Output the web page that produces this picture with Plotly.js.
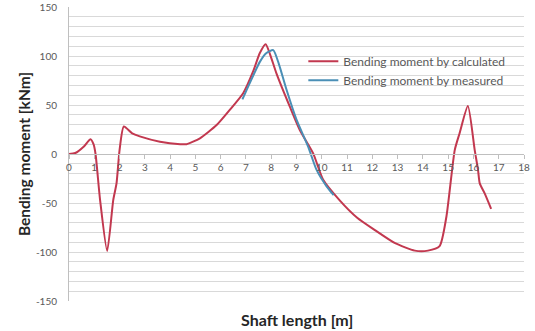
<!DOCTYPE html>
<html>
<head>
<meta charset="utf-8">
<script src="https://cdn.plot.ly/plotly-3.0.1.min.js"></script>
<style>
  html, body { margin: 0; padding: 0; background: #ffffff; }
  #chart { width: 535px; height: 331px; }
</style>
</head>
<body>
<div id="chart"></div>
<script>
// Bending moment along the shaft: calculated vs. measured
const calcLength = [0, 0.25, 0.6, 0.85, 0.97, 1.05, 1.23, 1.51, 1.75, 1.88, 2.0, 2.17, 2.5, 2.8, 3.6, 4.4, 4.65, 5.18, 5.84, 6.36, 6.89, 7.28, 7.55, 7.78, 7.95, 8.21, 8.74, 9.13, 9.66, 10.05, 10.7, 11.4, 12.1, 12.9, 13.68, 14.2, 14.66, 14.93, 15.26, 15.45, 15.78, 16.05, 16.18, 16.25, 16.44, 16.7];
const calcMoment = [0, 1, 8, 15, 10, 0, -47, -99, -47, -30, 4, 28, 21, 18, 12.5, 10, 10, 16, 29.5, 45, 62, 84, 103, 112, 102, 82, 48, 24.5, 0.7, -26, -47, -65, -77.6, -91, -98.6, -98.6, -94, -64, 4, 21, 49, 4, -16, -30, -40, -56];

const measLength = [6.86, 7.02, 7.55, 7.81, 8.08, 8.3, 8.6, 9.0, 9.46, 9.79, 10.19, 10.47];
const measMoment = [55.8, 65, 94, 103, 106, 92, 66, 35, 7.5, -16, -33, -42];

const seriesNames = ['Bending moment by calculated', 'Bending moment by measured'];
const xTicks = [0, 1, 2, 3, 4, 5, 6, 7, 8, 9, 10, 11, 12, 13, 14, 15, 16, 17, 18];
const yTicks = [-150, -100, -50, 0, 50, 100, 150];

const textFont = 'Lato, "Open Sans", "DejaVu Sans", sans-serif';

const traces = [
  {
    x: calcLength, y: calcMoment, name: seriesNames[0],
    mode: 'lines', type: 'scatter',
    line: { color: '#c2384f', width: 2, shape: 'spline', smoothing: 0.6 }
  },
  {
    x: measLength, y: measMoment, name: seriesNames[1],
    mode: 'lines', type: 'scatter',
    line: { color: '#4a8fb6', width: 2, shape: 'spline', smoothing: 0.6 }
  }
];

const layout = {
  width: 535, height: 331,
  margin: { l: 69, r: 11, t: 7, b: 30 },
  paper_bgcolor: '#ffffff', plot_bgcolor: '#ffffff',
  showlegend: true,
  legend: {
    x: 0.515, y: 0.865, xanchor: 'left', yanchor: 'top',
    bgcolor: 'rgba(0,0,0,0)', borderwidth: 0,
    itemwidth: 30, tracegroupgap: 0,
    font: { family: textFont, size: 12, color: '#595959' }
  },
  xaxis: {
    range: [0, 18],
    tickvals: xTicks, ticktext: xTicks.map(String),
    showgrid: false, zeroline: false,
    showline: true, linecolor: '#bfbfbf', linewidth: 1,
    ticks: 'outside', ticklen: 4, tickcolor: '#bfbfbf',
    anchor: 'free', position: 0.5,
    tickfont: { family: textFont, size: 10, color: '#595959' },
    fixedrange: true
  },
  yaxis: {
    range: [-150, 150],
    tickvals: yTicks, ticktext: yTicks.map(String),
    showgrid: true, gridcolor: '#d9d9d9', gridwidth: 1,
    minor: { dtick: 10, showgrid: true, gridcolor: '#d9d9d9', gridwidth: 1 },
    zeroline: false,
    showline: true, linecolor: '#bfbfbf', linewidth: 1,
    ticks: '', ticklabelstandoff: 9,
    tickfont: { family: textFont, size: 10, color: '#595959' },
    title: { text: 'Bending moment [kNm]', standoff: 1,
             font: { family: textFont, size: 15.5, color: '#262626', weight: 'bold' } },
    automargin: false,
    fixedrange: true
  },
  annotations: [
    {
      text: 'Shaft length [m]', showarrow: false,
      xref: 'paper', yref: 'paper', x: 0.501, y: -0.062,
      xanchor: 'center', yanchor: 'middle',
      font: { family: textFont, size: 16, color: '#262626', weight: 'bold' }
    }
  ]
};

Plotly.newPlot('chart', traces, layout, { displayModeBar: false, staticPlot: true });
</script>
</body>
</html>
